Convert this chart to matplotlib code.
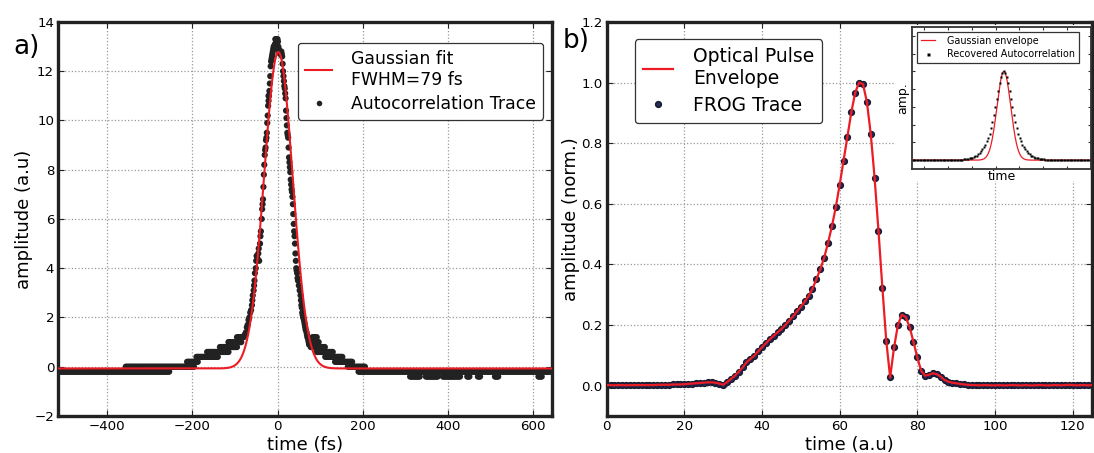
import numpy as np
import matplotlib.pyplot as plt
from matplotlib.patches import Rectangle
from matplotlib.lines import Line2D

# ---------------- (a) intensity autocorrelation ----------------
ac_step = 2.5  # fs between samples inside a flat (quantised) run

# flat runs of the quantised scan: start (fs), end (fs), level (a.u.)
run_start = [-514, -356, -212, -190, -165, -135, -115, -95,
             82, 84, 86, 92, 112, 135, 165, 190,
             311, 348, 388, 445, 470, 510, 612]
run_end = [-252, -195, -185, -140, -115, -95, -85, -78,
           92, 98, 112, 130, 152, 175, 207, 640,
           335, 376, 430, 450, 475, 518, 620]
run_level = [-0.2, 0.0, 0.2, 0.4, 0.6, 0.8, 1.0, 1.2,
             1.2, 1.0, 0.8, 0.6, 0.4, 0.2, 0.0, -0.2,
             -0.4, -0.4, -0.4, -0.4, -0.4, -0.4, -0.4]

# single samples on the steep part of the trace
peak_t = [-80, -77, -74, -72, -70, -68, -66, -64, -62, -60, -59, -58, -56,
          -55, -54, -53, -51, -50, -49, -47, -45, -44, -43, -41, -40, -39,
          -37, -36, -35, -34, -33, -32, -31, -30, -29, -28, -27, -26, -25,
          -24, -23, -22, -21, -21, -20, -19, -18, -17, -16, -15, -14, -13,
          -12, -11, -10, -9, -8, -6, -5, -4, -3, -2, -1, 0, 1, 2, 3, 4, 5,
          6, 7, 8, 9, 10, 11, 12, 13, 14, 15, 16, 17, 18, 19, 20, 21, 22,
          23, 24, 25, 26, 27, 28, 29, 30, 31, 32, 33, 34, 35, 36, 37, 38,
          39, 40, 41, 42, 43, 44, 45, 46, 47, 48, 50, 52, 54, 55, 56, 57,
          58, 59, 60, 62, 63, 64, 65, 66, 68, 69, 70, 72, 73, 74, 76, 78, 80]
peak_amp = [1.2, 1.3, 1.4, 1.6, 1.7, 1.9, 2.0, 2.2, 2.3, 2.5, 2.7, 2.9, 3.1,
            3.3, 3.5, 3.8, 4.0, 4.3, 4.5, 4.4, 4.6, 4.8, 4.3, 5.0, 5.3, 5.5,
            6.0, 6.4, 6.6, 6.8, 7.3, 7.8, 8.2, 8.6, 8.8, 8.9, 9.2, 9.3, 9.5,
            9.9, 10.2, 10.6, 10.8, 11.0, 11.0, 11.2, 11.5, 11.8, 12.2, 12.4,
            12.5, 12.6, 12.7, 12.8, 12.9, 13.0, 13.0, 13.1, 13.3, 13.3, 13.2,
            13.2, 13.3, 13.3, 13.2, 13.0, 12.9, 12.8, 12.8, 12.7, 12.8, 12.7,
            12.8, 12.7, 12.6, 12.3, 12.0, 11.8, 11.6, 11.4, 11.3, 11.1, 10.9,
            10.4, 10.1, 9.8, 9.5, 9.4, 9.3, 8.9, 8.5, 8.3, 8.1, 7.9, 7.6, 7.4,
            7.2, 7.1, 6.9, 6.6, 6.2, 5.8, 5.5, 5.3, 5.0, 4.6, 4.3, 4.0, 3.9,
            3.8, 3.6, 3.5, 3.3, 3.1, 2.9, 2.7, 2.5, 2.4, 2.2, 2.1, 2.0, 1.9,
            1.8, 1.7, 1.6, 1.5, 1.4, 1.3, 1.2, 1.1, 1.0, 0.9, 0.9, 0.8, 0.8]

fit_fwhm = 79.0     # fs
fit_amp = 12.85
fit_center = 2.0
fit_offset = -0.07

# ---------------- (b) retrieved FROG pulse ----------------
frog_t = np.arange(0, 128)
frog_amp = [0.002, 0.002, 0.001, 0.002, 0.002, 0.001, 0.002, 0.002, 0.002, 0.002,
            0.002, 0.002, 0.002, 0.003, 0.003, 0.003, 0.003, 0.004, 0.004, 0.004,
            0.005, 0.006, 0.007, 0.008, 0.009, 0.010, 0.011, 0.011, 0.010, 0.007,
            0.003, 0.012, 0.022, 0.033, 0.046, 0.060, 0.077, 0.088, 0.099, 0.113,
            0.127, 0.140, 0.153, 0.165, 0.176, 0.187, 0.200, 0.215, 0.229, 0.245,
            0.261, 0.278, 0.296, 0.320, 0.351, 0.384, 0.422, 0.471, 0.526, 0.589,
            0.663, 0.742, 0.822, 0.902, 0.967, 1.000, 0.995, 0.937, 0.831, 0.685,
            0.510, 0.323, 0.148, 0.027, 0.126, 0.200, 0.234, 0.227, 0.194, 0.145,
            0.093, 0.049, 0.033, 0.036, 0.041, 0.038, 0.030, 0.019, 0.013, 0.010,
            0.008, 0.006, 0.004, 0.003, 0.002, 0.002, 0.001, 0.002, 0.002, 0.001,
            0.001, 0.002, 0.001, 0.001, 0.002, 0.002, 0.001, 0.001, 0.002, 0.001,
            0.001, 0.002, 0.002, 0.001, 0.001, 0.002, 0.002, 0.001, 0.002, 0.003,
            0.002, 0.001, 0.002, 0.002, 0.001, 0.002, 0.002, 0.001]

# inset: recovered autocorrelation vs. gaussian envelope
acf_t = np.arange(-349, 396, 6)
acf_amp = ([0.0] * 29 +
           [0.001, 0.002, 0.002, 0.003, 0.004, 0.005, 0.006, 0.008, 0.010, 0.012,
            0.015, 0.019, 0.023, 0.028, 0.034, 0.042, 0.052, 0.065, 0.080, 0.098,
            0.120, 0.145, 0.175, 0.210, 0.250, 0.300, 0.360, 0.430, 0.510, 0.600,
            0.690, 0.780, 0.870, 0.940, 0.985, 1.000, 0.985, 0.940, 0.870, 0.780,
            0.690, 0.600, 0.510, 0.430, 0.360, 0.300, 0.250, 0.210, 0.175, 0.145,
            0.120, 0.098, 0.080, 0.065, 0.052, 0.042, 0.034, 0.028, 0.023, 0.019,
            0.015, 0.012, 0.010, 0.008, 0.006, 0.005, 0.004, 0.003, 0.002, 0.002,
            0.001] +
           [0.0] * 25)
env_center = 35.0
env_fwhm = 68.0

RED = '#ec1c24'
DARK = '#222222'
NAVY = '#262a5a'


def gauss(x, a, x0, fwhm, c=0.0):
    s = fwhm / (2 * np.sqrt(2 * np.log(2)))
    return a * np.exp(-(x - x0) ** 2 / (2 * s ** 2)) + c


def style_axes(ax, lw=2.4, tick_len=4):
    for sp in ax.spines.values():
        sp.set_linewidth(lw)
        sp.set_color(DARK)
    ax.tick_params(direction='in', top=True, right=True, length=tick_len,
                   color=DARK, labelsize=9.6, pad=3)
    ax.grid(True, linestyle=':', color='#999999', linewidth=0.9)


ac_t = list(peak_t)
ac_amp = list(peak_amp)
for t0, t1, lev in zip(run_start, run_end, run_level):
    ts = np.arange(t0, t1 + 0.1, ac_step)
    ac_t.extend(ts)
    ac_amp.extend([lev] * len(ts))

fig = plt.figure(figsize=(10.94, 4.53), dpi=100)

# ---- panel a
ax1 = fig.add_axes([0.0533, 0.0817, 0.4510, 0.8698])
style_axes(ax1)
ax1.set_axisbelow(True)
ax1.scatter(ac_t, ac_amp, s=20, color=DARK, edgecolors='none', zorder=2)
xf = np.linspace(-514, 643, 1200)
ax1.plot(xf, gauss(xf, fit_amp, fit_center, fit_fwhm, fit_offset),
         color=RED, lw=1.5, zorder=3)
ax1.set_xlim(-514, 643)
ax1.set_ylim(-2, 14)
ax1.set_xticks(np.arange(-400, 601, 200))
ax1.set_yticks(np.arange(-2, 15, 2))
ax1.set_xlabel('time (fs)', fontsize=13, labelpad=2)
ax1.set_ylabel('amplitude (a.u)', fontsize=13, labelpad=1)
h1 = [Line2D([], [], color=RED, lw=1.5),
      Line2D([], [], ls='none', marker='o', ms=4, color=DARK, mec='none')]
leg1 = ax1.legend(h1, ['Gaussian fit\nFWHM=79 fs', 'Autocorrelation Trace'],
                  loc='upper right', bbox_to_anchor=(0.9824, 0.9467),
                  borderaxespad=0, fontsize=12.4, handlelength=1.6,
                  handletextpad=1.1, numpoints=1, fancybox=True,
                  framealpha=1, labelspacing=0.35, borderpad=0.4)
leg1.get_frame().set_edgecolor('#333333')
leg1.get_frame().set_linewidth(0.9)
fig.text(0.012, 1 - 54 / 453, 'a)', fontsize=19, va='baseline')

# ---- panel b
ax2 = fig.add_axes([0.5546, 0.0817, 0.4436, 0.8698])
style_axes(ax2)
ax2.set_axisbelow(True)
ax2.add_patch(Rectangle((895 / 1094, 1 - 181 / 453), 0.2, 156 / 453,
                        transform=fig.transFigure, facecolor='white',
                        edgecolor='none', zorder=1))
ax2.plot(frog_t, frog_amp, ls='none', marker='o', ms=4.2, color=NAVY,
         mec='#1a1a2e', zorder=2)
ax2.plot(frog_t, frog_amp, color=RED, lw=1.6, zorder=3)
ax2.set_xlim(0, 125)
ax2.set_ylim(-0.1, 1.2)
ax2.set_xticks(np.arange(0, 121, 20))
ax2.set_yticks(np.arange(0, 1.21, 0.2))
ax2.set_yticklabels(['%.1f' % v for v in np.arange(0, 1.21, 0.2)])
ax2.set_xlabel('time (a.u)', fontsize=13, labelpad=2)
ax2.set_ylabel('amplitude (norm.)', fontsize=13, labelpad=1)
h2 = [Line2D([], [], color=RED, lw=1.6),
      Line2D([], [], ls='none', marker='o', ms=4.2, color=NAVY, mec='#1a1a2e')]
leg2 = ax2.legend(h2, ['Optical Pulse\nEnvelope', 'FROG Trace'],
                  loc='upper left', bbox_to_anchor=(0.0575, 0.9569),
                  borderaxespad=0, fontsize=13.5, handlelength=1.6,
                  handletextpad=1.05, numpoints=1, fancybox=True,
                  framealpha=1, labelspacing=0.4, borderpad=0.45)
leg2.get_frame().set_edgecolor('#333333')
leg2.get_frame().set_linewidth(0.9)
fig.text(563 / 1094, 1 - 48 / 453, 'b)', fontsize=19, va='baseline')

# ---- inset
ax3 = fig.add_axes([0.8339, 0.6269, 0.1631, 0.3135])
for sp in ax3.spines.values():
    sp.set_linewidth(1.3)
    sp.set_color('#333333')
ax3.tick_params(direction='in', top=True, right=True, length=2.5,
                color='#333333', labelbottom=False, labelleft=False)
xi = np.linspace(-350, 400, 800)
ax3.plot(xi, gauss(xi, 1.0, env_center, env_fwhm), color=RED, lw=0.9,
         label='Gaussian envelope')
ax3.plot(acf_t, acf_amp, ls='none', marker='s', ms=1.8, color='black',
         mec='none', label='Recovered Autocorrelation')
ax3.set_xlim(-350, 400)
ax3.set_ylim(-0.1, 1.5)
ax3.set_xticks(np.arange(-300, 401, 100))
ax3.set_yticks(np.arange(0, 1.41, 0.2))
ax3.set_xlabel('time', fontsize=9, labelpad=1)
ax3.set_ylabel('amp.', fontsize=9, labelpad=2)
leg3 = ax3.legend(loc='upper left', fontsize=6.9, handlelength=1.5,
                  handletextpad=1.2, numpoints=1, fancybox=False,
                  framealpha=1, borderpad=0.4, labelspacing=0.4,
                  markerscale=1.2)
leg3.get_frame().set_edgecolor('#333333')
leg3.get_frame().set_linewidth(0.9)

fig.savefig('out.png', dpi=100)
